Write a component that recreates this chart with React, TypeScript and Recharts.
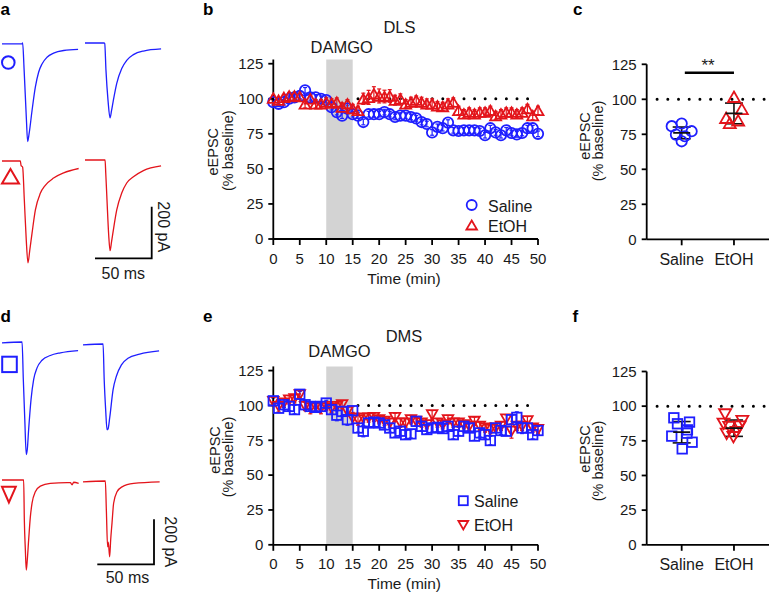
import React from "react";
import {
  ScatterChart,
  Scatter,
  XAxis,
  YAxis,
  ReferenceArea,
  ReferenceLine,
  ErrorBar,
  LineChart,
  Line,
} from "recharts";

const BLUE = "#1f1fff";
const RED = "#e3141b";
const FONT = "'Liberation Sans', Arial, Helvetica, sans-serif";

// ---- time courses (min, % baseline) ----
const minutes = [
  0, 1, 2, 3, 4, 5, 6, 7, 8, 9, 10, 11, 12, 13, 14, 15, 16, 17, 18, 19, 20, 21, 22, 23, 24, 25,
  26, 27, 28, 29, 30, 31, 32, 33, 34, 35, 36, 37, 38, 39, 40, 41, 42, 43, 44, 45, 46, 47, 48, 49, 50,
];
const timeTicks = [0, 5, 10, 15, 20, 25, 30, 35, 40, 45, 50];
const pctTicks = [0, 25, 50, 75, 100, 125];

const dlsSaline = [
  97.6, 96.4, 97.6, 100, 101, 102, 106, 101, 101, 100, 99, 94, 90.5, 88, 93, 89, 88, 83.4, 89, 89, 89,
  90.5, 89, 87, 88, 88, 87, 86, 83.4, 82, 76, 80, 79, 83, 77.5, 77, 77.5, 77.5, 77.5, 77, 74, 79, 76,
  74, 77.5, 75.6, 74.6, 75.6, 79, 79, 75,
];
const dlsSalineErr = [
  2, 2, 2, 2, 2, 2, 2, 2, 2, 2, 2, 2, 2, 2, 2, 2, 2, 2, 2, 2, 2, 2, 2, 2, 2, 2, 2, 2, 2, 2, 2, 2, 2,
  2, 2, 2, 2, 2, 2, 2, 2, 2, 2, 2, 2, 2, 2, 2, 2, 2, 2,
];
const dlsEtoh = [
  100.5, 99, 101, 102, 102, 101.6, 96.4, 100, 96.4, 96.4, 97.6, 97, 97.6, 94, 96.4, 93, 91.7, 100, 101,
  103.6, 102, 101.6, 102, 99, 100, 96.4, 97.6, 99, 97.6, 96.4, 96.4, 95, 94.5, 96.4, 97.6, 91.7, 89.3,
  90.5, 89.3, 90.5, 90.5, 91.7, 88, 89.3, 90.5, 90.5, 89.3, 90.5, 93, 88, 91.7,
];
const dlsEtohErr = [
  2, 2, 2, 2.5, 2.5, 2, 3, 2.5, 3, 3, 3, 3, 3, 3, 3, 3, 3, 4, 5, 5, 5, 4.5, 4.5, 3.5, 3.5, 3, 3.5, 3,
  3.5, 3.5, 3.5, 3, 3, 3.5, 3, 3, 3, 3, 3, 3, 3, 3, 3, 3, 3, 3, 3, 3, 3, 3, 3,
];

const dmsSaline = [
  103.3, 98, 100.5, 99.3, 97, 108, 100.5, 99.3, 98.6, 99.3, 101.7, 97, 93, 95.7, 89.8, 96.2, 83.8, 81.5,
  87.4, 88, 87.4, 86, 83.8, 80.3, 81.5, 79, 79.6, 88.6, 85, 82.7, 83.8, 84.3, 83.4, 85, 79, 81.5, 85,
  83.8, 78, 80.3, 79, 74.8, 83.8, 82, 81.5, 89.8, 91.4, 83.8, 83.8, 79, 82,
];
const dmsSalineErr = [
  2, 3, 2, 3, 3, 2, 3, 2, 3, 2, 2, 3, 4, 3, 4, 3, 3, 4, 3, 3, 3, 3, 3, 3, 3, 3, 3, 3, 3, 3, 3, 3, 3,
  3, 3, 3, 4, 3, 3, 3, 3, 3, 3, 3, 3, 3, 4, 4, 3, 3, 3,
];
const dmsEtoh = [
  102.8, 99.3, 101.7, 104, 104.8, 107.6, 99.3, 98, 99.3, 98, 99.3, 98, 99.3, 100.5, 95.7, 91, 89.8, 91,
  91, 91.4, 89.8, 88.6, 87.4, 91.4, 87.4, 87.4, 89.8, 88.6, 87.4, 86.2, 93.3, 87.4, 86.2, 89.8, 87.4,
  87.4, 86.2, 85, 88.6, 85, 83.8, 82.7, 83.8, 85, 90.3, 81.5, 85, 85, 89, 83.8, 82.7,
];
const dmsEtohErr = [
  3, 4, 3, 3, 3, 3, 3, 4, 3, 4, 3, 3, 3, 3, 3, 4, 4, 3, 3, 3, 3, 3, 3, 3, 3, 3, 3, 3, 3, 3, 3, 3, 3,
  3, 3, 3, 3, 3, 3, 3, 3, 3, 3, 3, 3, 5, 3, 3, 3, 3, 3,
];

// ---- summary (% baseline after DAMGO) ----
const groups = ["Saline", "EtOH"];
const dlsSalineCells = [80.8, 82.7, 77.2, 74.8, 73.6, 70.0];
const dlsSalineJitter = [-0.19, 0, 0.19, -0.11, 0.06, 0];
const dlsEtohCells = [101.8, 93.2, 86.8, 83.2, 85];
const dlsEtohJitter = [0, 0.15, -0.15, -0.08, 0.08];
const dlsMeans = [76, 89.9];
const dlsSpread = [4.2, 7.4];

const dmsSalineCells = [91.6, 87.3, 88.5, 82.9, 78.4, 80.5, 74, 69.2];
const dmsSalineJitter = [-0.15, -0.08, 0.15, 0.11, -0.19, 0.1, 0.2, 0.01];
const dmsEtohCells = [94, 87.3, 89.2, 85.3, 84.9, 81.3, 80, 77.6];
const dmsEtohJitter = [-0.17, -0.2, 0.16, 0.11, -0.09, 0.05, -0.14, -0.01];
const dmsMeans = [81.2, 84.1];
const dmsSpread = [7.7, 5.9];

// ---- example traces [ms, pA] ----
type Pt = [number, number];
const dlsSalinePre: Pt[] = [[0,0],[17.5,0],[18.2,3],[19.5,-100],[21.5,-290],[22.6,-378],[24,-345],[26.5,-258],[29.4,-168],[32.3,-110],[35.3,-78],[39.7,-52],[45.5,-36],[54.4,-26],[67.1,-22]];
const dlsSalinePost: Pt[] = [[0,0],[16.8,0],[17.4,-2],[18.5,-106],[20.3,-222],[22.1,-290],[23.4,-262],[25,-222],[28,-156],[32.4,-99],[36.8,-67],[42.7,-45],[51.5,-31],[67.1,-23]];
const dlsEtohPre: Pt[] = [[0,0],[16.2,0],[16.8,-17],[18.2,-24],[19.7,-152],[21.4,-306],[22.9,-394],[24.5,-345],[26.5,-279],[29.4,-190],[33.8,-125],[38.2,-94],[45.5,-66],[54.4,-46],[67.6,-29]];
const dlsEtohPost: Pt[] = [[0,0],[17.7,0],[18.3,-50],[19.4,-155],[20.9,-290],[22.1,-351],[23.4,-317],[25,-271],[28,-193],[32.4,-128],[36.8,-89],[42.7,-65],[51.5,-41],[67.1,-23]];
const dmsSalinePre: Pt[] = [[0,0],[17.7,4],[18.8,-163],[20.1,-341],[21.4,-496],[22.3,-474],[23.5,-385],[25.6,-252],[27.9,-163],[30.9,-111],[35.3,-77],[42.6,-56],[51.5,-44],[67.1,-34]];
const dmsSalinePost: Pt[] = [[0,0],[17.7,4],[18.7,-155],[20,-289],[21.2,-377],[22.1,-373],[23.6,-322],[26.5,-200],[29.5,-138],[33.9,-89],[39.7,-59],[50,-41],[67.1,-27]];
const dmsEtohPre: Pt[] = [[0,0],[19.1,0],[19.7,-178],[20.6,-311],[21.4,-400],[22.3,-355],[23.5,-266],[25,-164],[26.5,-103],[29.4,-52],[33.8,-27],[42.6,-15],[57.4,-12],[60.3,-12],[61.8,-22],[63.2,-10],[67.6,-15]];
const dmsEtohPost: Pt[] = [[0,0],[19.7,4],[20.6,-126],[21.7,-289],[22.3,-268],[23.5,-333],[24.4,-258],[25.6,-182],[27,-95],[30,-44],[34.4,-22],[44.7,-7],[67.6,0]];

const MS_PX = 56.7 / 50;
const A_PA_PX = 51.7 / 200;
const D_PA_PX = 45 / 200;

const axisStroke = { stroke: "#000", strokeWidth: 1.8 };
const numTick = { fontSize: 15, fill: "#1a1a1a" };
const catTick = { fontSize: 16, fill: "#1a1a1a" };

// marker shapes
const circle = (color: string, r: number) => (p: any) =>
  <circle cx={p.cx} cy={p.cy} r={r} fill="none" stroke={color} strokeWidth={1.8} />;
const square = (color: string, s: number) => (p: any) =>
  <rect x={p.cx - s / 2} y={p.cy - s / 2} width={s} height={s} fill="none" stroke={color} strokeWidth={1.8} />;
const triUp = (color: string, s: number) => (p: any) => {
  const h = s * 0.87;
  return (
    <polygon
      points={`${p.cx},${p.cy - h / 2} ${p.cx + s / 2},${p.cy + h / 2} ${p.cx - s / 2},${p.cy + h / 2}`}
      fill="none" stroke={color} strokeWidth={1.8}
    />
  );
};
const triDown = (color: string, s: number) => (p: any) => {
  const h = s * 0.87;
  return (
    <polygon
      points={`${p.cx - s / 2},${p.cy - h / 2} ${p.cx + s / 2},${p.cy - h / 2} ${p.cx},${p.cy + h / 2}`}
      fill="none" stroke={color} strokeWidth={1.8}
    />
  );
};
const meanBar = (p: any) =>
  <line x1={p.cx - 8.5} x2={p.cx + 8.5} y1={p.cy} y2={p.cy} stroke="#111" strokeWidth={1.7} />;

const course = (vals: number[], errs: number[]) => minutes.map((t, i) => ({ t, v: vals[i], e: errs[i] }));
const cells = (group: number, vals: number[], jitter: number[]) =>
  vals.map((v, i) => ({ x: group + jitter[i], v }));
const means = (vals: number[], spread: number[]) => vals.map((v, i) => ({ x: i + 1, v, e: spread[i] }));

function TimeCourse({ top, plotTop, plotBottom, first, second }: any) {
  const h = 290;
  return (
    <div style={{ position: "absolute", left: 200, top }}>
      <ScatterChart width={360} height={h} margin={{ top: plotTop - top, right: 22, bottom: 0, left: 0 }}>
        <XAxis type="number" dataKey="t" domain={[0, 50]} ticks={timeTicks} height={top + h - plotBottom}
          tickSize={6} tickMargin={8} axisLine={axisStroke} tickLine={axisStroke} tick={numTick} />
        <YAxis type="number" dataKey="v" domain={[0, 128]} ticks={pctTicks} width={73.3}
          tickSize={5} tickMargin={5} axisLine={axisStroke} tickLine={axisStroke} tick={numTick} />
        <ReferenceArea x1={10} x2={15} y1={0} y2={128} fill="#d3d3d3" fillOpacity={1} stroke="none" />
        <ReferenceLine segment={[{ x: 16, y: 100 }, { x: 50, y: 100 }]} stroke="#000" strokeWidth={3}
          strokeDasharray="0 10.6" strokeLinecap="round" />
        {[first, second].map((s: any, i: number) => (
          <Scatter key={i} data={s.data} shape={s.shape} isAnimationActive={false}>
            <ErrorBar dataKey="e" direction="y" width={2} stroke={s.color} strokeWidth={1.2} />
          </Scatter>
        ))}
      </ScatterChart>
    </div>
  );
}

function Summary({ top, plotTop, plotBottom, a, b, m, sig }: any) {
  const h = 290;
  return (
    <div style={{ position: "absolute", left: 570, top }}>
      <ScatterChart width={200} height={h} margin={{ top: plotTop - top, right: 1, bottom: 0, left: 0 }}>
        <XAxis type="number" dataKey="x" domain={[0.331, 2.67]} ticks={[1, 2]} allowDataOverflow
          tickFormatter={(v: number) => groups[v - 1]} height={top + h - plotBottom}
          tickSize={6} tickMargin={8} axisLine={axisStroke} tickLine={axisStroke} tick={catTick} />
        <YAxis type="number" dataKey="v" domain={[0, 125]} ticks={pctTicks} width={76.7}
          tickSize={5} tickMargin={5} axisLine={axisStroke} tickLine={axisStroke} tick={numTick} />
        <ReferenceLine segment={[{ x: 0.53, y: 100 }, { x: 2.67, y: 100 }]} stroke="#000" strokeWidth={3}
          strokeDasharray="0 10.7" strokeLinecap="round" />
        {sig && (
          <ReferenceLine segment={[{ x: 1.06, y: 119 }, { x: 2, y: 119 }]} stroke="#000" strokeWidth={2.6} />
        )}
        <Scatter data={a.data} shape={a.shape} isAnimationActive={false} />
        <Scatter data={b.data} shape={b.shape} isAnimationActive={false} />
        <Scatter data={m} shape={meanBar} isAnimationActive={false}>
          <ErrorBar dataKey="e" direction="y" width={9} stroke="#111" strokeWidth={1.6} />
        </Scatter>
      </ScatterChart>
    </div>
  );
}

function Trace({ pts, color, x0, base, paPx }: { pts: Pt[]; color: string; x0: number; base: number; paPx: number }) {
  const tMax = pts[pts.length - 1][0];
  const hi = Math.max(...pts.map((p) => p[1]));
  const lo = Math.min(...pts.map((p) => p[1]));
  const pad = 2;
  return (
    <div style={{ position: "absolute", left: x0 - pad, top: base - hi * paPx - pad }}>
      <LineChart width={tMax * MS_PX + pad * 2} height={(hi - lo) * paPx + pad * 2}
        data={pts.map(([t, i]) => ({ t, i }))} margin={{ top: pad, right: pad, bottom: pad, left: pad }}>
        <XAxis type="number" dataKey="t" domain={[0, tMax]} hide />
        <YAxis type="number" domain={[lo, hi]} hide />
        <Line type="monotone" dataKey="i" stroke={color} strokeWidth={1.3} dot={false} isAnimationActive={false} />
      </LineChart>
    </div>
  );
}

const YTitle = ({ x1, y1, x2, y2 }: any) => (
  <g fontSize={14.5} fill="#1a1a1a" textAnchor="middle" dominantBaseline="central">
    <text transform={`translate(${x1},${y1}) rotate(-90)`}>eEPSC</text>
    <text transform={`translate(${x2},${y2}) rotate(-90)`}>(% baseline)</text>
  </g>
);

export default function App() {
  return (
    <div style={{ position: "absolute", left: 0, top: 0, width: 770, height: 593, overflow: "hidden", background: "#fff", fontFamily: FONT }}>
      {/* traces */}
      <Trace pts={dlsSalinePre} color={BLUE} x0={1.7} base={43.3} paPx={A_PA_PX} />
      <Trace pts={dlsSalinePost} color={BLUE} x0={85} base={42.7} paPx={A_PA_PX} />
      <Trace pts={dlsEtohPre} color={RED} x0={1.7} base={160.7} paPx={A_PA_PX} />
      <Trace pts={dlsEtohPost} color={RED} x0={85} base={160} paPx={A_PA_PX} />
      <Trace pts={dmsSalinePre} color={BLUE} x0={1.7} base={343.3} paPx={D_PA_PX} />
      <Trace pts={dmsSalinePost} color={BLUE} x0={83.3} base={345} paPx={D_PA_PX} />
      <Trace pts={dmsEtohPre} color={RED} x0={1.7} base={480} paPx={D_PA_PX} />
      <Trace pts={dmsEtohPost} color={RED} x0={82.7} base={481.7} paPx={D_PA_PX} />

      <TimeCourse top={0} plotTop={59.5} plotBottom={239}
        first={{ data: course(dlsSaline, dlsSalineErr), shape: circle(BLUE, 5.2), color: BLUE }}
        second={{ data: course(dlsEtoh, dlsEtohErr), shape: triUp(RED, 11), color: RED }} />
      <TimeCourse top={306.5} plotTop={365.9} plotBottom={544.3}
        first={{ data: course(dmsEtoh, dmsEtohErr), shape: triDown(RED, 10.5), color: RED }}
        second={{ data: course(dmsSaline, dmsSalineErr), shape: square(BLUE, 9.5), color: BLUE }} />

      <Summary top={0} plotTop={64.3} plotBottom={239.3} sig
        a={{ data: cells(1, dlsSalineCells, dlsSalineJitter), shape: circle(BLUE, 5.2) }}
        b={{ data: cells(2, dlsEtohCells, dlsEtohJitter), shape: triUp(RED, 12) }}
        m={means(dlsMeans, dlsSpread)} />
      <Summary top={306.5} plotTop={371} plotBottom={544.3}
        a={{ data: cells(1, dmsSalineCells, dmsSalineJitter), shape: square(BLUE, 9.5) }}
        b={{ data: cells(2, dmsEtohCells, dmsEtohJitter), shape: triDown(RED, 12) }}
        m={means(dmsMeans, dmsSpread)} />

      <svg width={770} height={593} style={{ position: "absolute", left: 0, top: 0, pointerEvents: "none" }}>
        <g fontSize={17} fontWeight="bold" fill="#000">
          <text x={0.5} y={15}>a</text>
          <text x={203} y={15}>b</text>
          <text x={573} y={15}>c</text>
          <text x={0.5} y={322}>d</text>
          <text x={203} y={322}>e</text>
          <text x={572.5} y={322}>f</text>
        </g>

        {/* group symbols */}
        <circle cx={8.3} cy={62.5} r={6.3} fill="none" stroke={BLUE} strokeWidth={2} />
        <polygon points="10.5,169 19,183.5 2,183.5" fill="none" stroke={RED} strokeWidth={2} />
        <rect x={2.2} y={356.7} width={14.6} height={15.4} fill="none" stroke={BLUE} strokeWidth={2} />
        <polygon points="2,486.8 15.8,486.8 8.9,502.5" fill="none" stroke={RED} strokeWidth={2} />

        {/* scale bars */}
        <path d="M95,258.3 H151.7 V206.7" fill="none" stroke="#000" strokeWidth={1.8} />
        <path d="M97.3,564.3 H154 V519.3" fill="none" stroke="#000" strokeWidth={1.8} />
        <g fontSize={16} fill="#1a1a1a" textAnchor="middle">
          <text transform="translate(163.3,226.7) rotate(90)" dominantBaseline="central">200 pA</text>
          <text x={123.3} y={279}>50 ms</text>
          <text transform="translate(170,541.7) rotate(90)" dominantBaseline="central">200 pA</text>
          <text x={127.5} y={583}>50 ms</text>
        </g>

        {/* panel titles */}
        <g fontSize={16.5} fill="#1a1a1a" textAnchor="middle">
          <text x={399.5} y={33.3}>DLS</text>
          <text x={341.7} y={52.7}>DAMGO</text>
          <text x={404} y={342.3}>DMS</text>
          <text x={339.5} y={356.7}>DAMGO</text>
        </g>
        <g fontSize={15.5} fill="#1a1a1a" textAnchor="middle">
          <text x={404} y={283.5}>Time (min)</text>
          <text x={404.3} y={589.3}>Time (min)</text>
        </g>
        <YTitle x1={213} y1={151.7} x2={228} y2={150.7} />
        <YTitle x1={585} y1={136} x2={598.3} y2={141} />
        <YTitle x1={215} y1={450} x2={228.3} y2={457} />
        <YTitle x1={585} y1={449} x2={598.3} y2={461} />

        {/* legends */}
        <circle cx={471.7} cy={205} r={5} fill="none" stroke={BLUE} strokeWidth={1.8} />
        <polygon points="471.7,220.5 477,229.5 466.4,229.5" fill="none" stroke={RED} strokeWidth={1.8} />
        <rect x={458.8} y={496.2} width={9} height={9} fill="none" stroke={BLUE} strokeWidth={1.8} />
        <polygon points="458.4,521 468.2,521 463.3,529.5" fill="none" stroke={RED} strokeWidth={1.8} />
        <g fontSize={16} fill="#1a1a1a">
          <text x={488} y={211.7}>Saline</text>
          <text x={488} y={231.7}>EtOH</text>
          <text x={474} y={506.7}>Saline</text>
          <text x={474} y={530.7}>EtOH</text>
        </g>

        <text x={708} y={71} fontSize={17} textAnchor="middle" fill="#1a1a1a">**</text>
      </svg>
    </div>
  );
}
